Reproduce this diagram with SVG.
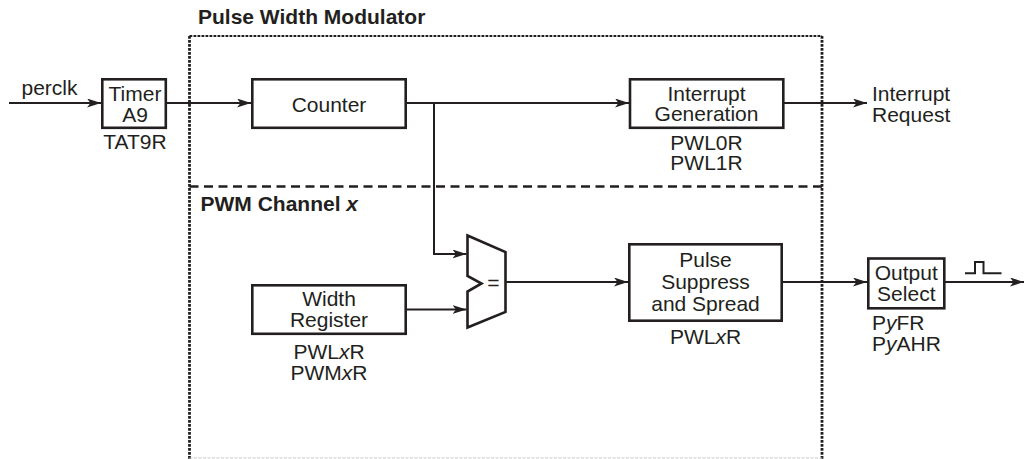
<svg xmlns="http://www.w3.org/2000/svg" width="1025" height="459" viewBox="0 0 1025 459">
<style>
text{font-family:"Liberation Sans",Arial,Helvetica,sans-serif;font-size:21px;fill:#231f20}
.c{text-anchor:middle}
.b{font-weight:bold}
.box{fill:#fff;stroke:#231f20;stroke-width:2.6}
.wire{fill:none;stroke:#231f20;stroke-width:2}
.arr{marker-end:url(#ah)}
.dot{stroke:#231f20;stroke-dasharray:2.8 1.2}
</style>
<defs>
<marker id="ah" markerUnits="userSpaceOnUse" markerWidth="15" markerHeight="10" refX="14" refY="4.5" orient="auto">
<path d="M0,0 L14,4.5 L0,9 L3.5,4.5 Z" fill="#231f20"/>
</marker>
</defs>
<rect width="1025" height="459" fill="#fff"/>

<g id="pwm-frame">
<line class="dot" x1="189.5" y1="36" x2="822" y2="36" stroke-width="2.2"/>
<line class="dot" x1="189.5" y1="36" x2="189.5" y2="459" stroke-width="2.8"/>
<line class="dot" x1="822" y1="36" x2="822" y2="459" stroke-width="2.8"/>
<line x1="189.5" y1="458" x2="822" y2="458" stroke="#c8c8c8" stroke-width="1.2" stroke-dasharray="3 1.5"/>
<line x1="189.5" y1="186.5" x2="822" y2="186.5" stroke="#231f20" stroke-width="2.6" stroke-dasharray="9 5.5"/>
<text class="b" x="198" y="24">Pulse Width Modulator</text>
<text class="b" x="200.5" y="211">PWM Channel <tspan font-style="italic">x</tspan></text>
</g>

<g id="connectors">
<path class="wire arr" d="M9,103 H101"/>
<path class="wire arr" d="M166,103 H251"/>
<path class="wire arr" d="M405.7,103 H629"/>
<path class="wire arr" d="M783,103 H867"/>
<path class="wire arr" d="M434,103 V254 H466.5"/>
<path class="wire arr" d="M405.7,309.5 H466.5"/>
<path class="wire arr" d="M505.5,282 H628"/>
<path class="wire arr" d="M781.7,282 H867"/>
<path class="wire arr" d="M944,282 H1024"/>
<path class="wire" d="M965,273.3 H975 V262 H983.5 V273.3 H1001.5"/>
<text x="21.5" y="94.5">perclk</text>
<text x="872" y="100.5">Interrupt</text>
<text x="872" y="121.5">Request</text>
</g>

<g id="timer">
<rect class="box" x="102.3" y="79.3" width="63.5" height="48.5"/>
<text class="c" x="135" y="101">Timer</text>
<text class="c" x="135" y="122">A9</text>
<text class="c" x="135" y="149">TAT9R</text>
</g>

<g id="counter">
<rect class="box" x="252.3" y="79.3" width="153.4" height="48.5"/>
<text class="c" x="329" y="112">Counter</text>
</g>

<g id="interrupt">
<rect class="box" x="630" y="79.3" width="153.3" height="48.5"/>
<text class="c" x="706.5" y="100.5">Interrupt</text>
<text class="c" x="706.5" y="121">Generation</text>
<text class="c" x="706.5" y="150">PWL0R</text>
<text class="c" x="706.5" y="170">PWL1R</text>
</g>

<g id="width-register">
<rect class="box" x="252.3" y="285.3" width="153.4" height="48.5"/>
<text class="c" x="329" y="305.5">Width</text>
<text class="c" x="329" y="326.5">Register</text>
<text class="c" x="329" y="359">PWL<tspan font-style="italic">x</tspan>R</text>
<text class="c" x="329" y="379.5">PWM<tspan font-style="italic">x</tspan>R</text>
</g>

<g id="comparator">
<path class="box" d="M467.5,235.5 L505.5,252 L505.5,312 L467.5,327.5 L467.5,291.5 L481.5,283.5 L467.5,276 Z"/>
<text class="c" x="493.5" y="290" font-size="20">=</text>
</g>

<g id="pulse-suppress">
<rect class="box" x="629.3" y="244.3" width="152.4" height="76.4"/>
<text class="c" x="705.5" y="267">Pulse</text>
<text class="c" x="705.5" y="289">Suppress</text>
<text class="c" x="705.5" y="311">and Spread</text>
<text class="c" x="705.5" y="343.5">PWL<tspan font-style="italic">x</tspan>R</text>
</g>

<g id="output-select">
<rect class="box" x="868.3" y="258.5" width="76" height="49.8"/>
<text class="c" x="906.3" y="280">Output</text>
<text class="c" x="906.3" y="300.5">Select</text>
<text x="872" y="330">P<tspan font-style="italic">y</tspan>FR</text>
<text x="872" y="350.5">P<tspan font-style="italic">y</tspan>AHR</text>
</g>
</svg>
